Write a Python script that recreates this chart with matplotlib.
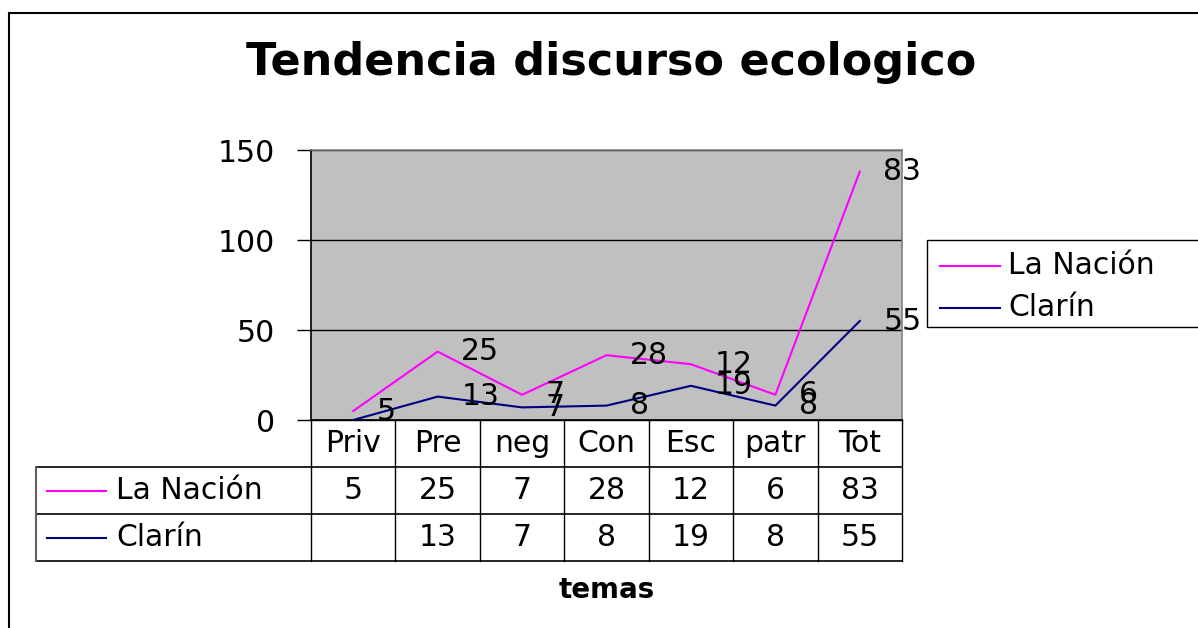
import matplotlib
matplotlib.use("Agg")
import matplotlib.pyplot as plt
from matplotlib.transforms import blended_transform_factory
from matplotlib.lines import Line2D
from matplotlib.patches import Rectangle

plt.rcParams['font.family'] = ['DejaVu Sans']

categories = ["Priv", "Pre", "neg", "Con", "Esc", "patr", "Tot"]
la_nacion = [5, 25, 7, 28, 12, 6, 83]
clarin = [None, 13, 7, 8, 19, 8, 55]
series_names = ["La Nación", "Clarín"]
colors = ["#FF00FF", "#000080"]
yticks = [0, 50, 100, 150]

FS = 21.5

W, H = 1198, 628
fig = plt.figure(figsize=(W / 100, H / 100), dpi=100)


def fx(px):
    return px / W


def fy(py):
    return 1 - py / H


# outer chart border
fig.patches.append(Rectangle((fx(9), fy(640)), fx(1210) - fx(9), fy(13) - fy(640),
                             transform=fig.transFigure, fill=False, ec="black", lw=1.5, zorder=0))

L, R, T, B = 311, 902, 150, 420
ax = fig.add_axes([fx(L), fy(B), fx(R) - fx(L), fy(T) - fy(B)])
ax.set_facecolor("#C0C0C0")
ax.set_xlim(-0.5, len(categories) - 0.5)
ax.set_ylim(0, 150)
ax.set_yticks(yticks)
ax.set_yticklabels([str(v) for v in yticks], fontsize=FS)
ax.tick_params(axis="y", length=10, width=1, pad=16, color="black")
ax.set_xticks([])
for y in yticks[1:]:
    ax.axhline(y, color="black", lw=1, zorder=1)
ax.spines["left"].set_color("black")
ax.spines["bottom"].set_color("black")
ax.spines["top"].set_color("#808080")
ax.spines["right"].set_color("#808080")
for s in ax.spines.values():
    s.set_linewidth(1.2)

# stacked line values
clar_vals = [v if v is not None else 0 for v in clarin]
stacked_nacion = [a + b for a, b in zip(la_nacion, clar_vals)]
xs = list(range(len(categories)))

ax.plot(xs, stacked_nacion, color=colors[0], lw=1.5, zorder=3)
ax.plot(xs, clar_vals, color=colors[1], lw=1.5, zorder=3)

for x, yv, lab in zip(xs, stacked_nacion, la_nacion):
    ax.annotate(str(lab), (x, yv), xytext=(17, 0), textcoords="offset points",
                ha="left", va="center", fontsize=FS, annotation_clip=False, zorder=4)
for x, yv, lab in zip(xs, clar_vals, clarin):
    if lab is None:
        continue
    ax.annotate(str(lab), (x, yv), xytext=(17, 0), textcoords="offset points",
                ha="left", va="center", fontsize=FS, annotation_clip=False, zorder=4)

# title
fig.text(0.5 * (fx(248) + fx(975)), fy(62), "Tendencia discurso ecologico",
         ha="center", va="center", fontsize=32, fontweight="bold")

# data table
tr = blended_transform_factory(ax.transData, fig.transFigure)
rows_y = [420, 467, 514, 561]
table_left = 36
fig.add_artist(Line2D([fx(L), fx(R)], [fy(420), fy(420)], color="black", lw=1))
for yy in rows_y[1:]:
    fig.add_artist(Line2D([fx(table_left), fx(R)], [fy(yy), fy(yy)], color="black", lw=1.2))
fig.add_artist(Line2D([fx(table_left), fx(table_left)], [fy(467), fy(561)], color="#606060", lw=1.5))
for i in range(len(categories) + 1):
    xb = i - 0.5
    fig.add_artist(Line2D([xb, xb], [fy(561), fy(420)], color="black", lw=1,
                          transform=tr, clip_on=False))
for i, c in enumerate(categories):
    fig.text(i, fy(443), c, transform=tr, ha="center", va="center", fontsize=FS)
for r, vals in enumerate([la_nacion, clarin]):
    yc = fy(0.5 * (rows_y[r + 1] + rows_y[r + 2]))
    for i, v in enumerate(vals):
        if v is None:
            continue
        fig.text(i, yc, str(v), transform=tr, ha="center", va="center", fontsize=FS)
    fig.add_artist(Line2D([fx(47), fx(106)], [yc, yc], color=colors[r], lw=1.5))
    fig.text(fx(116), yc, series_names[r], ha="left", va="center", fontsize=FS)

# axis title
fig.text(3, fy(590), "temas", transform=tr,
         ha="center", va="center", fontsize=20, fontweight="bold")

# legend box
fig.patches.append(Rectangle((fx(927), fy(327)), fx(1210) - fx(927), fy(240) - fy(327),
                             transform=fig.transFigure, fill=True, fc="white", ec="black", lw=1))
for r, name in enumerate(series_names):
    yc = fy([266, 308][r])
    fig.add_artist(Line2D([fx(940), fx(1000)], [yc, yc], color=colors[r], lw=1.5))
    fig.text(fx(1008), yc, name, ha="left", va="center", fontsize=FS)

fig.savefig("out.png", dpi=100)
